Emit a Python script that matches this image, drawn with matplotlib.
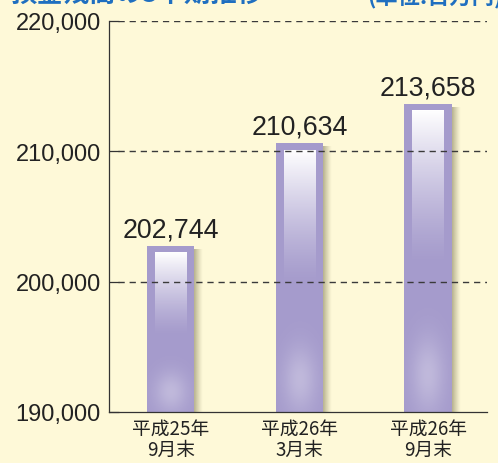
import matplotlib
matplotlib.use("Agg")
import matplotlib.pyplot as plt
import numpy as np
from matplotlib.colors import to_rgb

categories = ["平成25年\n9月末", "平成26年\n3月末", "平成26年\n9月末"]
values = [202744, 210634, 213658]
yticks = [190000, 200000, 210000, 220000]
title = "預金残高の3半期推移"
unit = "(単位:百万円)"

BG = "#FEF9D8"
BAR = "#A59BCC"
BLUE = "#1F6FC0"

fig = plt.figure(figsize=(4.98, 4.64), dpi=100, facecolor=BG)
ax = fig.add_axes([109/498, 51/464, 378/498, 391/464], facecolor=BG)

x = np.arange(len(values))
w = 0.366
ymin, ymax = 190000, 220000
ax.set_xlim(-0.482, 2.459)
ax.set_ylim(ymin, ymax)

# grid lines (drawn over the bars, as in the reference)
for yt in yticks[1:]:
    ax.axhline(yt, color="#3a3a3a", lw=1.0, ls=(0, (4.5, 3.5)), zorder=7, xmin=0.025)

sw = 0.07
for xi, v in zip(x, values):
    # shadow on the right
    sh = np.zeros((2, 30, 4))
    sh[..., :3] = to_rgb("#6b6640")
    sh[..., 3] = np.linspace(0.55, 0.0, 30)[None, :] ** 1.2
    ax.imshow(sh, extent=(xi + w/2, xi + w/2 + sw, ymin, v - 300), origin="lower",
              aspect="auto", zorder=2, interpolation="bilinear")
    ax.bar(xi, v - ymin, bottom=ymin, width=w, color=BAR, zorder=3, linewidth=0)
    # bottom glow
    ny, nx = 200, 40
    yy, xx = np.mgrid[0:1:ny*1j, -1:1:nx*1j]
    glow = np.exp(-((xx/0.7)**2 + ((yy-0.12)/0.12)**2))
    img = np.zeros((ny, nx, 4))
    img[..., :3] = 1.0
    img[..., 3] = 0.3 * glow
    ax.imshow(img, extent=(xi - w/2, xi + w/2, ymin, v), origin="lower",
              aspect="auto", zorder=4, interpolation="bilinear")
    # top highlight
    hw = w * 0.66
    top = v - 550
    hbot = top - (v - ymin) * 0.5
    g = np.linspace(0, 1, 100)[:, None]
    hl = np.zeros((100, 2, 4))
    hl[..., :3] = 1.0
    hl[..., 3] = np.clip(g, 0, 1) ** 1.3 * np.ones((100, 2))
    ax.imshow(hl, extent=(xi - hw/2, xi + hw/2, hbot, top), origin="lower",
              aspect="auto", zorder=5, interpolation="bilinear")
    ax.text(xi, v + 250, f"{v:,}", ha="center", va="bottom", fontsize=19.3,
            family="Liberation Sans", color="#222222", zorder=8)

ax.set_xticks(x)
ax.set_xticklabels(categories, fontsize=13.5, family=["Noto Sans CJK JP", "DejaVu Sans"],
                   linespacing=1.0, color="#222222")
ax.tick_params(axis="x", length=0, pad=4)
ax.set_yticks(yticks)
ax.set_yticklabels([f"{t:,}" for t in yticks], fontsize=17, family="Liberation Sans", color="#222222")
ax.tick_params(axis="y", direction="in", length=7, width=0.9, color="#333333", pad=6)
for s in ["top", "right"]:
    ax.spines[s].set_visible(False)
ax.spines["left"].set_color("#333333")
ax.spines["bottom"].set_color("#333333")
ax.spines["left"].set_linewidth(0.9)
ax.spines["bottom"].set_linewidth(0.9)
ax.spines["left"].set_zorder(9)
ax.spines["bottom"].set_zorder(9)

fig.text(10/498, 1 - 9/464, title, ha="left", va="bottom", fontsize=19, fontweight="bold",
         color=BLUE, family=["Noto Sans CJK JP", "DejaVu Sans"])
fig.text(367/498, 1 - 9/464, unit, ha="left", va="bottom", fontsize=16, fontweight="bold",
         color=BLUE, family=["Noto Sans CJK JP", "DejaVu Sans"])

fig.savefig("out.png", dpi=100, facecolor=BG)
